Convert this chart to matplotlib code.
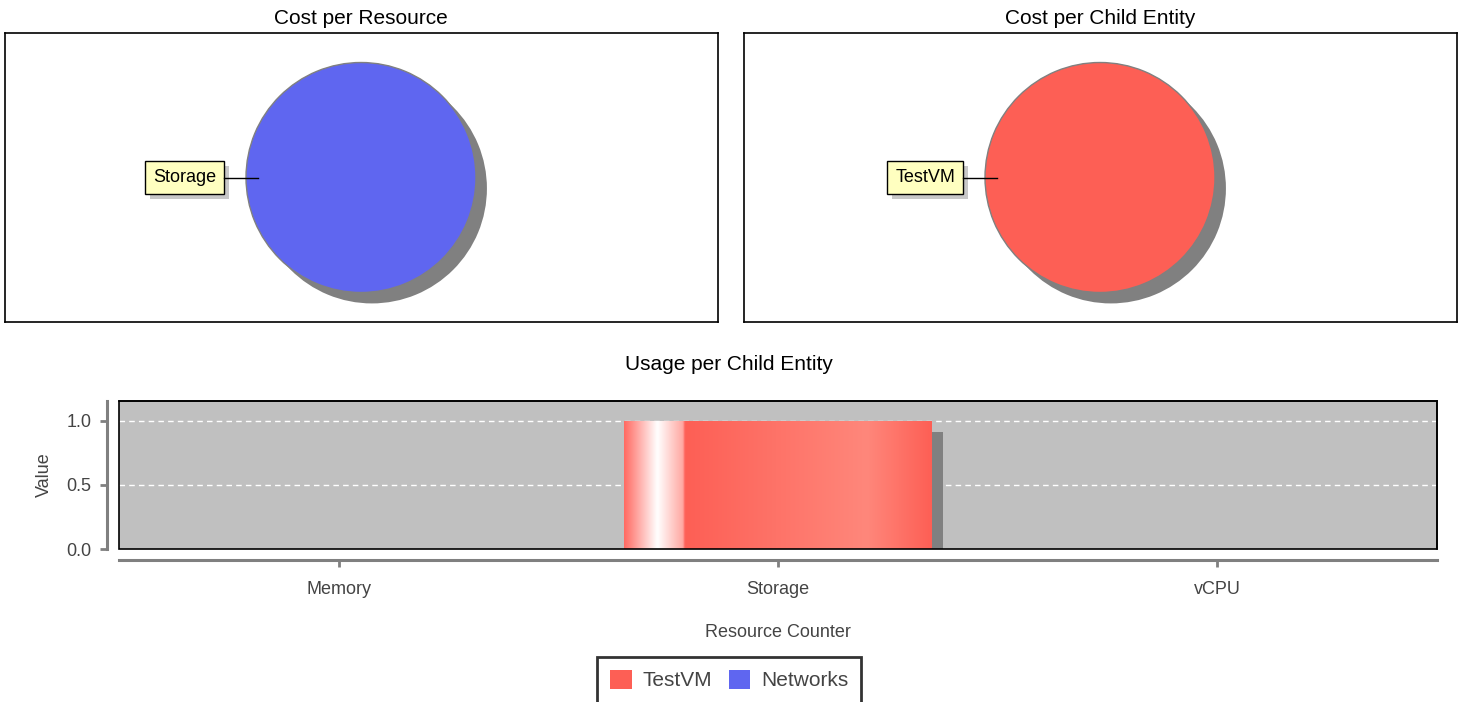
import numpy as np
import matplotlib
matplotlib.use("Agg")
import matplotlib.pyplot as plt
from matplotlib.colors import LinearSegmentedColormap
from matplotlib.patches import Rectangle, Patch
from matplotlib.transforms import ScaledTranslation
import matplotlib.patheffects as pe

plt.rcParams['font.family'] = ['Liberation Sans', 'DejaVu Sans']

# ---------------- data ----------------
resource_names = ['Storage']
resource_costs = [1.0]
child_names = ['TestVM']
child_costs = [1.0]
counters = ['Memory', 'Storage', 'vCPU']
series_names = ['TestVM', 'Networks']
testvm_usage = [0.0, 1.0, 0.0]
networks_usage = [0.0, 0.0, 0.0]
y_ticks = [0.0, 0.5, 1.0]

RED = '#FD5F55'
BLUE = '#5F66F0'
SHADOW = '#808080'

W, H = 1464, 702
PT = 72 / 100  # points per pixel
fig = plt.figure(figsize=(W / 100, H / 100), dpi=100)


def px_axes(x0, y0, x1, y1):
    return fig.add_axes([x0 / W, 1 - y1 / H, (x1 - x0) / W, (y1 - y0) / H])


def pie_panel(ax, names, values, color, title, title_x):
    r_px = 115.0
    wpx, hpx = 713.0, 289.0
    cx = 356.0 / r_px
    # shadow
    ax.pie(values, colors=[SHADOW], radius=1.0, center=(0.095, -0.095),
           startangle=0, counterclock=True, frame=True,
           wedgeprops=dict(edgecolor='none'))
    ax.pie(values, colors=[color], radius=1.0, center=(0, 0),
           startangle=0, counterclock=True, frame=True,
           wedgeprops=dict(edgecolor=SHADOW, linewidth=1.0))
    ax.set_xlim(-cx, wpx / r_px - cx)
    ax.set_ylim(-hpx / 2 / r_px, hpx / 2 / r_px)
    ax.set_aspect('auto')
    ax.set_xticks([])
    ax.set_yticks([])
    for s in ax.spines.values():
        s.set_color('black')
        s.set_linewidth(1.2)
    box_right = -1.19
    for name in names:
        ax.plot([box_right, -0.896], [0, 0], color='black', lw=1, zorder=6)
        t = ax.text(box_right - 8 / r_px, 0, name,
                    ha='right', va='center', fontsize=13, color='black',
                    bbox=dict(boxstyle='square,pad=0.46', fc='#FFFFC0', ec='black', lw=1),
                    zorder=5)
        t.get_bbox_patch().set_path_effects([
            pe.SimplePatchShadow(offset=(5 * PT, -5 * PT), shadow_rgbFace='#C8C8C8', alpha=1.0),
            pe.Normal()])
    fig.text(title_x / W, 1 - 18 / H, title, ha='center', va='center', fontsize=15,
             color='black')


ax1 = px_axes(5, 33, 718, 322)
pie_panel(ax1, resource_names, resource_costs, BLUE, 'Cost per Resource', 361)
ax2 = px_axes(744, 33, 1457, 322)
pie_panel(ax2, child_names, child_costs, RED, 'Cost per Child Entity', 1100)

# ---------------- bar chart ----------------
ax3 = px_axes(119, 401, 1437, 549)
ax3.set_facecolor('#C0C0C0')
x = np.arange(len(counters))
bar_w = 0.7

shadow_tr = ax3.transData + ScaledTranslation(11 / 100, -11 / 100, fig.dpi_scale_trans)
ax3.bar(x, testvm_usage, width=bar_w, color=SHADOW, transform=shadow_tr, zorder=2)
bars = ax3.bar(x, testvm_usage, width=bar_w, color=RED, zorder=3)

grad = LinearSegmentedColormap.from_list('g', [
    (0.0, '#FF6B63'), (0.107, '#FFFFFF'), (0.19, '#FFA8A2'), (0.197, '#FF6058'),
    (0.20, '#FD5F55'), (0.79, '#FF877B'), (1.0, '#FD5F55')])
gimg = np.linspace(0, 1, 256).reshape(1, -1)
for b, v in zip(bars, testvm_usage):
    if v <= 0:
        continue
    x0, w, h = b.get_x(), b.get_width(), b.get_height()
    im = ax3.imshow(gimg, cmap=grad, extent=[x0, x0 + w, 0, h], aspect='auto',
                    interpolation='bilinear', zorder=3.5)
    im.set_clip_path(b)
ax3.set_xlim(-0.5, len(counters) - 0.5)
ax3.set_ylim(0, 1.156)
ax3.set_aspect('auto')

ax3.set_yticks(y_ticks)
ax3.set_yticklabels([f'{t:.1f}' for t in y_ticks])
ax3.set_xticks(x)
ax3.set_xticklabels(counters)
for t in y_ticks[1:]:
    ax3.axhline(t, color='white', lw=1, ls=(0, (4, 3)), zorder=1)

for side in ['left', 'bottom']:
    ax3.spines[side].set_color('#808080')
    ax3.spines[side].set_linewidth(2.2)
ax3.spines['left'].set_position(('outward', 12 * PT))
ax3.spines['bottom'].set_position(('outward', 11 * PT))
for side in ['top', 'right']:
    ax3.spines[side].set_color('black')
    ax3.spines[side].set_linewidth(1.2)
ax3.add_patch(Rectangle((0, 0), 1, 1, transform=ax3.transAxes, fill=False,
                        ec='black', lw=1.2, zorder=6, clip_on=False))
ax3.tick_params(axis='both', colors='#808080', labelcolor='#444444', labelsize=13,
                width=2, length=5)
ax3.tick_params(axis='x', pad=10)
ax3.tick_params(axis='y', pad=6)
ax3.set_ylabel('Value', fontsize=13, color='#444444', labelpad=10)
ax3.set_xlabel('Resource Counter', fontsize=13, color='#444444', labelpad=19)
fig.text(729 / W, 1 - 365 / H, 'Usage per Child Entity', ha='center', va='center',
         fontsize=15, color='black')

handles = [Patch(facecolor=c, edgecolor='none') for c in [RED, BLUE]]
leg = fig.legend(handles, series_names, loc='upper center',
                 bbox_to_anchor=(729 / W, 1 - 657 / H), ncol=2, fontsize=15,
                 frameon=True, fancybox=False, edgecolor='black',
                 handlelength=1.05, handleheight=1.0, handletextpad=0.5,
                 columnspacing=0.8, borderpad=0.62, borderaxespad=0)
leg.get_frame().set_linewidth(2)
for t in leg.get_texts():
    t.set_color('#444444')

fig.savefig('out.png', dpi=100)
